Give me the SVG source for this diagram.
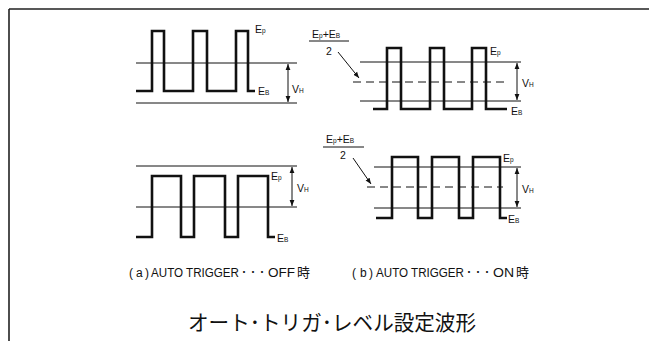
<svg xmlns="http://www.w3.org/2000/svg" width="649" height="341" viewBox="0 0 649 341">
<defs>
<marker id="ah" viewBox="0 0 10 10" refX="10" refY="5" markerWidth="6" markerHeight="6" orient="auto-start-reverse" markerUnits="userSpaceOnUse">
<path d="M0,1 L10,5 L0,9 z" fill="#111"/>
</marker>
</defs>
<style>
.wave{fill:none;stroke:#111;stroke-width:2.6;stroke-linejoin:miter}
.thin{fill:none;stroke:#111;stroke-width:1}
.dash{fill:none;stroke:#111;stroke-width:1;stroke-dasharray:8 5}
.arr{fill:none;stroke:#111;stroke-width:1}
.lbl{font-family:"Liberation Sans","Noto Sans CJK JP",sans-serif;font-size:10.5px;fill:#111}
.sub{font-size:6.5px}
.cap{font-family:"Liberation Sans","Noto Sans CJK JP",sans-serif;font-size:12px;fill:#111}
.kj{font-size:13px}
.title{font-family:"Noto Sans CJK JP","Liberation Sans",sans-serif;font-size:21px;fill:#111}
</style>
<rect width="649" height="341" fill="#fff"/>
<g id="frame">
<path d="M9,9 H649 M9,9 V341" fill="none" stroke="#222" stroke-width="1.6"/>
</g>

<g id="wave-a-top">
<path class="thin" d="M136,63 H297 M136,103 H297"/>
<path class="wave" d="M136,91 H152 V31 H164 V91 H193 V31 H207 V91 H236 V31 H248 V91 H255"/>
<text class="lbl" x="255" y="33">E<tspan class="sub">p</tspan></text>
<text class="lbl" x="258" y="95">E<tspan class="sub">B</tspan></text>
<text class="lbl" x="292" y="93">V<tspan class="sub">H</tspan></text>
</g>

<g id="wave-b-top">
<path class="thin" d="M360,62 H521 M360,101 H521"/>
<path class="dash" d="M353,82 H507"/>
<path class="wave" d="M373,109 H387 V48 H401 V109 H430 V48 H444 V109 H472 V48 H486 V109 H507"/>
<text class="lbl" x="490" y="55">E<tspan class="sub">p</tspan></text>
<text class="lbl" x="511" y="115">E<tspan class="sub">B</tspan></text>
<text class="lbl" x="522" y="87">V<tspan class="sub">H</tspan></text>
<text class="lbl" x="312" y="38">E<tspan class="sub">p</tspan>+E<tspan class="sub">B</tspan></text>
<path class="thin" d="M309,41 H349"/>
<text class="lbl" x="329" y="55" text-anchor="middle">2</text>
</g>

<g id="wave-a-bottom">
<path class="thin" d="M136,166 H297 M136,207 H297"/>
<path class="wave" d="M136,237 H152 V176 H181 V237 H194 V176 H225 V237 H238 V176 H268 V237 H275"/>
<text class="lbl" x="271" y="180">E<tspan class="sub">p</tspan></text>
<text class="lbl" x="277" y="242">E<tspan class="sub">B</tspan></text>
<text class="lbl" x="297" y="192">V<tspan class="sub">H</tspan></text>
</g>

<g id="wave-b-bottom">
<path class="thin" d="M374,167 H521 M374,208 H521"/>
<path class="dash" d="M367,187 H503"/>
<path class="wave" d="M376,218 H392 V157 H418 V218 H432 V157 H459 V218 H473 V157 H500 V218 H507"/>
<text class="lbl" x="503" y="162">E<tspan class="sub">p</tspan></text>
<text class="lbl" x="508" y="223">E<tspan class="sub">B</tspan></text>
<text class="lbl" x="522" y="193">V<tspan class="sub">H</tspan></text>
<text class="lbl" x="326" y="143">E<tspan class="sub">p</tspan>+E<tspan class="sub">B</tspan></text>
<path class="thin" d="M323,147 H364"/>
<text class="lbl" x="343" y="159" text-anchor="middle">2</text>
</g>

<g id="connectors">
<path class="arr" d="M288,64 V102" marker-start="url(#ah)" marker-end="url(#ah)"/>
<path class="arr" d="M517,63 V100" marker-start="url(#ah)" marker-end="url(#ah)"/>
<path class="arr" d="M292,167 V206" marker-start="url(#ah)" marker-end="url(#ah)"/>
<path class="arr" d="M517,168 V207" marker-start="url(#ah)" marker-end="url(#ah)"/>
<path class="arr" d="M338,52 L359,78" marker-end="url(#ah)"/>
<path class="arr" d="M353,158 L371,184" marker-end="url(#ah)"/>
</g>

<g id="captions">
<text class="cap" y="277"><tspan x="129">(</tspan><tspan x="136">a</tspan><tspan x="145">)</tspan><tspan x="151" textLength="88" lengthAdjust="spacingAndGlyphs">AUTO TRIGGER</tspan><tspan x="241">･</tspan><tspan x="250">･</tspan><tspan x="259">･</tspan><tspan x="268" textLength="27" lengthAdjust="spacingAndGlyphs">OFF</tspan><tspan class="kj" x="297">時</tspan></text>
<text class="cap" y="277"><tspan x="352">(</tspan><tspan x="360">b</tspan><tspan x="369">)</tspan><tspan x="376" textLength="88" lengthAdjust="spacingAndGlyphs">AUTO TRIGGER</tspan><tspan x="466">･</tspan><tspan x="475">･</tspan><tspan x="484">･</tspan><tspan x="493" textLength="21" lengthAdjust="spacingAndGlyphs">ON</tspan><tspan class="kj" x="516">時</tspan></text>
<text class="title" x="188" y="330" textLength="288" lengthAdjust="spacingAndGlyphs">オート･トリガ･レベル設定波形</text>
</g>
</svg>
